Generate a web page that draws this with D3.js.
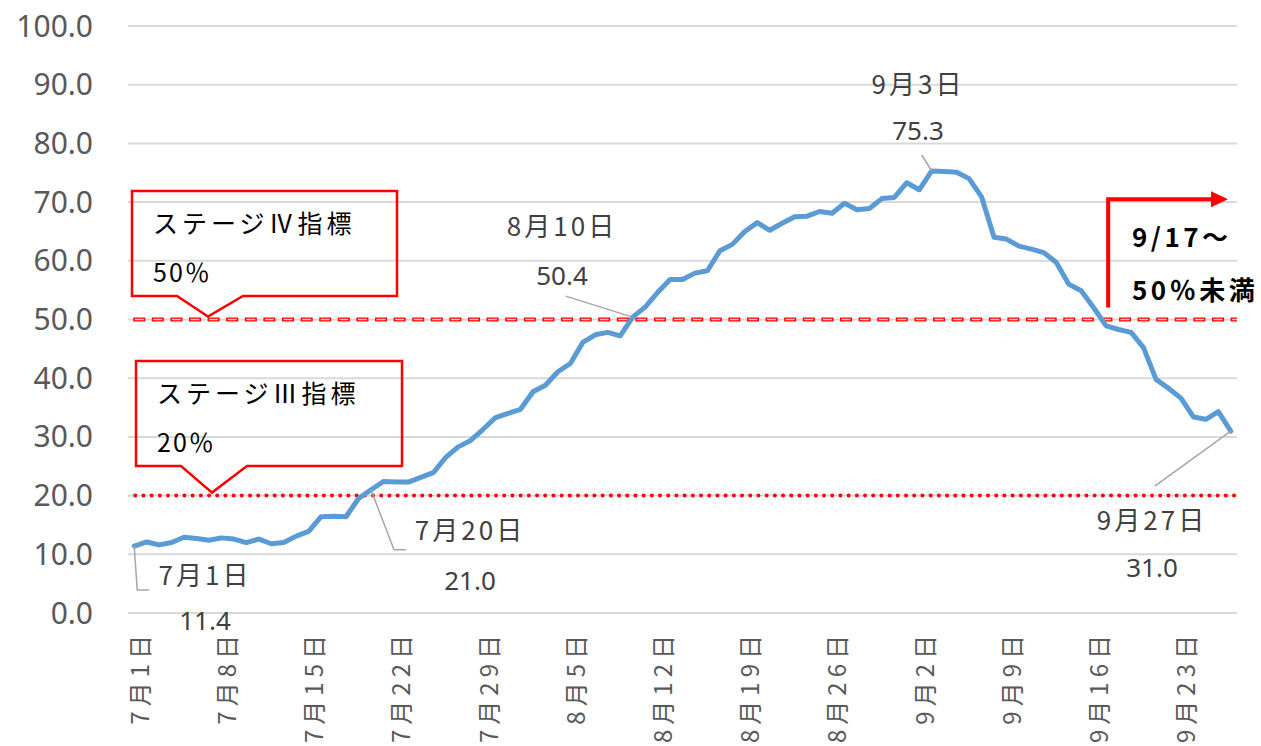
<!DOCTYPE html>
<html>
<head>
<meta charset="utf-8">
<script src="https://cdn.jsdelivr.net/npm/d3@7/dist/d3.min.js"></script>
<style>
  body { margin: 0; background: #fff; }
  svg text { font-family: "Noto Sans CJK JP", "Noto Sans", sans-serif; }
</style>
</head>
<body>
<div id="chart"></div>
<script>
var width = 1261;
var height = 746;

// daily values, 7/1 .. 9/27
var values = [
    11.4, 12.1, 11.6, 12.0, 12.9, 12.7, 12.4, 12.8, 12.6, 12.0,
    12.6, 11.8, 12.0, 13.1, 13.9, 16.4, 16.5, 16.4, 19.5, 21.0,
    22.4, 22.3, 22.3, 23.1, 23.9, 26.5, 28.3, 29.4, 31.3, 33.3,
    34.0, 34.7, 37.7, 38.8, 41.1, 42.5, 46.1, 47.4, 47.8, 47.2,
    50.4, 52.1, 54.6, 56.8, 56.8, 57.9, 58.3, 61.7, 62.8, 65.0,
    66.5, 65.2, 66.4, 67.5, 67.6, 68.4, 68.1, 69.8, 68.7, 68.9,
    70.6, 70.8, 73.3, 72.1, 75.3, 75.2, 75.1, 74.0, 70.9, 64.0,
    63.7, 62.5, 62.0, 61.4, 59.7, 56.0, 54.9, 52.0, 48.9, 48.3,
    47.8, 45.2, 39.8, 38.3, 36.6, 33.4, 33.0, 34.3, 31.0
];
var dates = d3.timeDay.range(new Date(2021, 6, 1), new Date(2021, 8, 28));
var yTicks = [0, 10, 20, 30, 40, 50, 60, 70, 80, 90, 100];
var thresholds = [50, 20];
var stageTitles = ["ステージⅣ指標", "ステージⅢ指標"];
var stageTexts = ["50％", "20％"];
var noteLines = ["9/17～", "50％未満"];
var noteIndex = 78; // 9/17

function dayLabel(d) {
    return (d.getMonth() + 1) + "月" + d.getDate() + "日";
}

var svg = d3.select("#chart")
    .append("svg")
    .attr("width", width)
    .attr("height", height);

var x = d3.scalePoint()
    .domain(d3.range(values.length))
    .range([128, 1237])
    .padding(0.5);
var y = d3.scaleLinear()
    .domain([0, 100])
    .range([613, 26]);

// grid
svg.append("g")
    .selectAll("line")
    .data(yTicks)
    .enter()
    .append("line")
    .attr("x1", 128)
    .attr("x2", 1237)
    .attr("y1", function(d) { return y(d); })
    .attr("y2", function(d) { return y(d); })
    .attr("stroke", "#d9d9d9")
    .attr("stroke-width", 2);

svg.append("g")
    .selectAll("text")
    .data(yTicks)
    .enter()
    .append("text")
    .attr("x", 93)
    .attr("y", function(d) { return y(d); })
    .attr("dy", "0.35em")
    .attr("text-anchor", "end")
    .attr("fill", "#595959")
    .style("font-family", "'Noto Sans', sans-serif")
    .style("font-size", "30px")
    .text(function(d) { return d.toFixed(1); });

// x labels every 7 days
svg.append("g")
    .selectAll("text")
    .data(d3.range(0, values.length, 7))
    .enter()
    .append("text")
    .attr("transform", function(i) { return "translate(" + (x(i) + 6) + ",630) rotate(-90)"; })
    .attr("dy", "0.35em")
    .attr("text-anchor", "end")
    .attr("fill", "#595959")
    .style("font-size", "24px")
    .style("letter-spacing", "5px")
    .text(function(i) { return dayLabel(dates[i]); });

// threshold lines
var x0 = x(0) - 1, x1 = 1237;
svg.append("line")
    .attr("x1", x0).attr("x2", x1)
    .attr("y1", y(thresholds[0])).attr("y2", y(thresholds[0]))
    .attr("stroke", "#ff0000")
    .attr("stroke-width", 4)
    .attr("stroke-dasharray", "12,6.6");
svg.append("line")
    .attr("x1", x0 + 1.5).attr("x2", x1)
    .attr("y1", y(thresholds[0])).attr("y2", y(thresholds[0]))
    .attr("stroke", "#ffc8c8")
    .attr("stroke-width", 1.4)
    .attr("stroke-dasharray", "9,9.6");
svg.append("line")
    .attr("x1", x0 + 2).attr("x2", x1)
    .attr("y1", y(thresholds[1])).attr("y2", y(thresholds[1]))
    .attr("stroke", "#ff0000")
    .attr("stroke-width", 4)
    .attr("stroke-linecap", "round")
    .attr("stroke-dasharray", "0,8.2");

// callout boxes
var boxes = [
    { left: 132, top: 191, right: 397, bottom: 296, n1: 177, n2: 243, tip: 208, level: thresholds[0] },
    { left: 136, top: 361, right: 402, bottom: 466, n1: 181, n2: 247, tip: 212, level: thresholds[1] }
];
boxes.forEach(function(b, k) {
    var p = d3.path();
    p.moveTo(b.left, b.top);
    p.lineTo(b.right, b.top);
    p.lineTo(b.right, b.bottom);
    p.lineTo(b.n2, b.bottom);
    p.lineTo(b.tip, y(b.level) - 3);
    p.lineTo(b.n1, b.bottom);
    p.lineTo(b.left, b.bottom);
    p.closePath();
    svg.append("path")
        .attr("d", p.toString())
        .attr("fill", "none")
        .attr("stroke", "#ff0000")
        .attr("stroke-width", 2.5);
    svg.append("text")
        .attr("x", b.left + 21)
        .attr("y", b.top + 42)
        .attr("fill", "#000")
        .style("font-size", "25px")
        .style("letter-spacing", "4px")
        .text(stageTitles[k]);
    svg.append("text")
        .attr("x", b.left + 21)
        .attr("y", b.top + 91)
        .attr("fill", "#000")
        .style("font-size", "25px")
        .style("letter-spacing", "2px")
        .text(stageTexts[k]);
});

// main line
var line = d3.line()
    .x(function(d, i) { return x(i); })
    .y(function(d) { return y(d); });

svg.append("path")
    .datum(values)
    .attr("d", line)
    .attr("fill", "none")
    .attr("stroke", "#5b9bd5")
    .attr("stroke-width", 5)
    .attr("stroke-linejoin", "round")
    .attr("stroke-linecap", "round");

// data labels with leader lines
var callouts = [
    { i: 0,  lx: 205,  ly1: 585, ly2: 630, lead: [[0, 0], [3, 44], [15, 44]] },
    { i: 19, lx: 470,  ly1: 540, ly2: 590, lead: [[0, 0], [23, 60], [35, 60]] },
    { i: 40, lx: 562,  ly1: 236, ly2: 285, lead: [[0, 0], [-67, -21]] },
    { i: 64, lx: 918,  ly1: 94,  ly2: 140, lead: [[0, 0], [-10, -16]] },
    { i: 88, lx: 1152, ly1: 530, ly2: 577, lead: [[0, 0], [-76, 55]] }
];
callouts.forEach(function(c) {
    var px = x(c.i), py = y(values[c.i]);
    svg.append("path")
        .attr("d", d3.line()(c.lead.map(function(p) { return [px + p[0], py + p[1]]; })))
        .attr("fill", "none")
        .attr("stroke", "#a6a6a6")
        .attr("stroke-width", 1.5);
    svg.append("text")
        .attr("x", c.lx)
        .attr("y", c.ly1)
        .attr("text-anchor", "middle")
        .attr("fill", "#404040")
        .style("font-size", "26px")
        .style("letter-spacing", "3px")
        .text(dayLabel(dates[c.i]));
    svg.append("text")
        .attr("x", c.lx)
        .attr("y", c.ly2)
        .attr("text-anchor", "middle")
        .attr("fill", "#404040")
        .style("font-family", "'Noto Sans', sans-serif")
        .style("font-size", "26px")
        .text(values[c.i].toFixed(1));
});

// 9/17 arrow
var ax = x(noteIndex) + 2;
svg.append("path")
    .attr("d", "M" + ax + "," + (y(50) - 12) + "V" + y(70.5) + "H1214")
    .attr("fill", "none")
    .attr("stroke", "#ff0000")
    .attr("stroke-width", 4);
svg.append("path")
    .attr("d", "M1211," + (y(70.5) - 8) + "L1228," + y(70.5) + "L1211," + (y(70.5) + 8) + "Z")
    .attr("fill", "#ff0000");
noteLines.forEach(function(t, k) {
    svg.append("text")
        .attr("x", 1132)
        .attr("y", 247 + k * 53)
        .attr("fill", "#000")
        .style("font-size", "26px")
        .style("font-weight", "bold")
        .style("letter-spacing", "3.5px")
        .text(t);
});
</script>
</body>
</html>
